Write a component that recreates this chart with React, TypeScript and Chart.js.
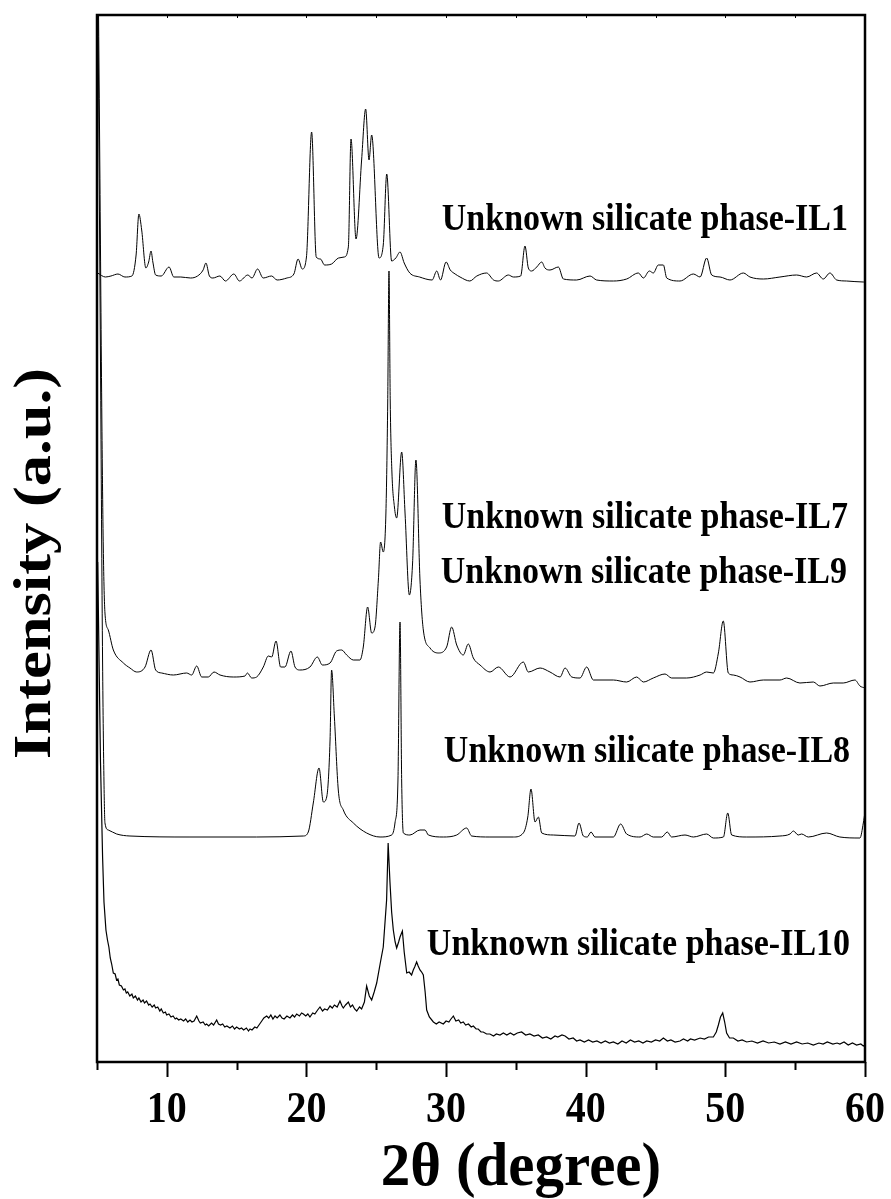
import React, { useEffect, useRef } from "react";
import { Chart, registerables } from "chart.js";

Chart.register(...registerables);

// ---- axis settings ----
const X_MIN = 5;
const X_MAX = 60;
const Y_MIN = 0;
const Y_MAX = 1047;
const MAJOR_TICKS = [10, 20, 30, 40, 50, 60];
const MINOR_TICKS = [5, 15, 25, 35, 45, 55];
const TICK_LABELS = ["10", "20", "30", "40", "50", "60"];
const X_TITLE = "2θ (degree)";
const Y_TITLE = "Intensity (a.u.)";

// ---- IL1 (top trace) ----
const IL1_THETA = [5.05, 5.6, 6.0, 6.5, 7.0, 7.5, 7.8, 8.0, 8.2, 8.5, 8.7, 8.87, 9.0, 9.2, 9.6, 10.16, 10.5, 11.0, 11.7, 12.2, 12.6, 12.8, 13.05, 13.3, 13.8, 14.2, 14.8, 15.2, 15.8, 16.1, 16.5, 16.9, 17.5, 17.9, 18.6, 19.1, 19.4, 19.7, 20.0, 20.37, 20.7, 21.0, 21.3, 21.8, 22.3, 22.7, 23.0, 23.19, 23.55, 23.95, 24.24, 24.48, 24.67, 25.2, 25.5, 25.75, 26.1, 26.4, 26.7, 27.0, 27.4, 28.1, 29.0, 29.33, 29.6, 30.0, 30.3, 30.65, 31.0, 31.7, 32.2, 32.9, 33.4, 33.74, 34.46, 34.82, 35.34, 35.65, 35.89, 36.13, 36.49, 36.85, 37.08, 37.44, 38.04, 38.4, 39.35, 40.31, 40.78, 41.98, 42.93, 43.77, 44.13, 44.56, 44.84, 45.2, 45.56, 45.8, 46.75, 47.71, 48.19, 48.66, 49.02, 49.62, 50.33, 51.29, 51.76, 52.72, 53.91, 55.1, 55.82, 56.53, 57.01, 57.49, 57.97, 58.68, 59.88, 60];
const IL1_COUNTS = [789, 785, 786, 788, 785, 786, 807, 848, 832, 794, 800, 811, 800, 787, 786, 795, 785, 785, 784, 786, 792, 799, 786, 784, 786, 781, 788, 781, 787, 784, 793, 784, 786, 782, 784, 788, 803, 793, 805, 930, 805, 803, 797, 798, 804, 805, 815, 923, 823, 902, 953, 902, 927, 804, 817, 888, 801, 804, 810, 799, 789, 785, 782, 791, 782, 800, 792, 788, 785, 781, 786, 789, 782, 781, 787, 785, 786, 816, 794, 791, 795, 800, 794, 792, 795, 783, 782, 786, 782, 781, 783, 789, 784, 791, 789, 797, 797, 784, 781, 788, 785, 804, 787, 785, 782, 789, 785, 783, 785, 787, 785, 789, 783, 789, 782, 781, 780, 780];

// ---- IL7 / IL9 (second trace) ----
const IL7_THETA = [5.05, 5.2, 5.35, 5.45, 5.57, 5.81, 6.17, 6.89, 7.36, 7.84, 8.44, 8.87, 9.2, 9.63, 10.47, 11.42, 11.78, 12.14, 12.5, 12.97, 13.38, 13.81, 14.76, 15.6, 15.77, 16.08, 16.43, 16.91, 17.27, 17.51, 17.82, 18.15, 18.46, 18.89, 19.18, 19.54, 20.25, 20.78, 21.14, 21.69, 22.16, 22.52, 22.88, 23.36, 23.83, 24.07, 24.38, 24.67, 24.91, 25.15, 25.31, 25.5, 25.69, 25.82, 25.91, 26.0, 26.12, 26.3, 26.46, 26.82, 27.06, 27.37, 27.6, 27.84, 28.13, 28.37, 28.85, 29.44, 30.04, 30.4, 30.76, 31.23, 31.59, 31.95, 32.43, 33.15, 33.74, 34.58, 35.53, 35.89, 36.73, 37.44, 38.16, 38.52, 39.0, 39.59, 40.07, 40.55, 41.98, 42.93, 43.65, 44.13, 44.84, 45.68, 46.15, 47.23, 48.19, 48.66, 49.14, 49.5, 49.85, 50.21, 50.57, 51.05, 51.76, 52.72, 53.91, 54.39, 55.34, 56.3, 56.77, 57.73, 58.44, 59.28, 59.64, 60];
const IL7_COUNTS = [1150, 900, 640, 515, 449, 432, 412, 399, 394, 390, 395, 412, 392, 389, 387, 389, 387, 396, 385, 385, 390, 387, 385, 386, 389, 384, 385, 395, 406, 405, 421, 395, 395, 411, 395, 392, 395, 405, 397, 399, 411, 412, 407, 402, 402, 415, 455, 429, 435, 482, 520, 510, 549, 660, 791, 660, 590, 555, 544, 610, 549, 467, 499, 602, 482, 432, 414, 409, 415, 435, 417, 407, 418, 404, 397, 390, 395, 385, 400, 390, 394, 390, 385, 394, 385, 384, 395, 382, 382, 380, 385, 380, 384, 388, 384, 384, 387, 390, 389, 409, 441, 389, 387, 385, 380, 382, 382, 384, 379, 380, 376, 379, 379, 382, 376, 374];

// ---- IL8 (third trace) ----
const IL8_THETA = [5.05, 5.25, 5.4, 5.5, 5.57, 5.81, 6.41, 7.36, 11.66, 16.43, 19.78, 20.13, 20.49, 20.9, 21.21, 21.45, 21.69, 21.8, 22.0, 22.28, 22.64, 23.36, 24.31, 25.27, 26.1, 26.34, 26.55, 26.7, 26.82, 26.94, 27.41, 28.13, 28.49, 28.73, 29.8, 30.76, 31.47, 31.83, 33.14, 34.82, 35.53, 35.85, 36.08, 36.37, 36.61, 36.85, 37.68, 39.23, 39.52, 39.83, 40.11, 40.38, 40.66, 41.98, 42.5, 42.93, 43.89, 44.37, 44.84, 45.44, 45.84, 46.15, 47.11, 47.71, 48.66, 49.14, 49.86, 50.17, 50.45, 51.53, 53.91, 54.63, 54.87, 55.22, 55.46, 55.94, 57.25, 58.2, 59.64, 59.88, 60];
const IL8_COUNTS = [1100, 700, 400, 280, 239, 232, 228, 226, 225, 225, 226, 230, 259, 294, 260, 265, 322, 392, 345, 272, 252, 239, 229, 225, 227, 239, 280, 440, 280, 229, 227, 232, 232, 227, 225, 227, 234, 226, 225, 225, 229, 245, 273, 240, 245, 229, 227, 226, 239, 226, 225, 230, 225, 225, 238, 228, 225, 228, 225, 225, 230, 225, 227, 225, 228, 224, 225, 249, 227, 225, 226, 228, 231, 227, 228, 225, 229, 225, 224, 239, 250];

// ---- IL10 (bottom trace, noisy scan) as [2θ, counts] ----
const IL10_POINTS: [number, number][] = [
  [5.05, 500], [5.25, 300], [5.4, 205], [5.5, 160], [5.64, 132], [5.75, 122], [5.85, 115], [5.95, 104], [6.05, 98], [6.17, 89],
  [6.3, 88], [6.4, 82], [6.5, 83], [6.6, 77], [6.75, 76], [6.89, 72], [7.0, 73], [7.1, 69], [7.2, 70], [7.35, 66],
  [7.5, 68], [7.6, 64], [7.75, 66], [7.9, 62], [8.0, 64], [8.15, 60], [8.3, 62], [8.4, 59], [8.55, 61], [8.7, 57],
  [8.8, 58], [8.95, 55], [9.1, 57], [9.2, 54], [9.35, 55], [9.5, 51], [9.6, 53], [9.75, 49], [9.9, 50], [9.99, 47],
  [10.15, 48], [10.3, 45], [10.45, 46], [10.6, 43], [10.7, 44], [10.85, 42], [11.0, 43], [11.2, 41], [11.35, 43], [11.5, 40],
  [11.66, 42], [11.8, 40], [11.95, 41], [12.14, 46], [12.3, 41], [12.4, 39], [12.6, 40], [12.75, 37], [12.85, 38], [13.0, 36],
  [13.2, 39], [13.35, 37], [13.57, 42], [13.7, 38], [13.85, 37], [14.0, 38], [14.15, 35], [14.3, 36], [14.52, 34], [14.7, 36],
  [14.85, 33], [15.0, 35], [15.2, 33], [15.35, 34], [15.5, 32], [15.7, 34], [15.85, 31], [15.96, 33], [16.1, 32], [16.3, 35],
  [16.45, 34], [16.6, 37], [16.8, 41], [16.95, 44], [17.15, 46], [17.3, 44], [17.45, 47], [17.6, 43], [17.75, 46], [17.9, 44],
  [18.1, 47], [18.25, 44], [18.4, 43], [18.6, 46], [18.82, 44], [19.0, 47], [19.15, 45], [19.3, 48], [19.5, 46], [19.65, 49],
  [19.78, 48], [19.95, 46], [20.1, 48], [20.25, 45], [20.45, 49], [20.6, 48], [20.8, 52], [20.97, 55], [21.15, 51], [21.3, 53],
  [21.5, 52], [21.69, 56], [21.85, 54], [22.0, 57], [22.2, 55], [22.4, 61], [22.55, 56], [22.64, 54], [22.8, 57], [23.0, 60],
  [23.15, 55], [23.3, 57], [23.45, 53], [23.6, 51], [23.8, 55], [23.95, 53], [24.15, 60], [24.31, 76], [24.5, 66], [24.67, 62],
  [24.85, 70], [25.03, 79], [25.3, 100], [25.5, 115], [25.74, 162], [25.85, 219], [25.98, 180], [26.1, 150], [26.22, 132], [26.35, 120],
  [26.46, 114], [26.6, 120], [26.7, 125], [26.87, 131], [27.0, 110], [27.18, 89], [27.35, 90], [27.53, 87], [27.65, 92], [27.75, 95],
  [27.89, 100], [28.0, 96], [28.13, 92], [28.25, 90], [28.37, 87], [28.5, 70], [28.61, 52], [28.8, 45], [29.09, 40], [29.3, 38],
  [29.5, 40], [29.8, 38], [30.0, 41], [30.2, 40], [30.35, 43], [30.52, 46], [30.7, 41], [30.9, 42], [31.05, 39], [31.23, 40],
  [31.4, 37], [31.6, 38], [31.8, 35], [31.95, 36], [32.15, 33], [32.3, 33], [32.5, 30], [32.66, 30], [32.9, 28], [33.14, 28],
  [33.4, 26], [33.6, 28], [33.86, 27], [34.1, 29], [34.35, 27], [34.6, 29], [34.85, 27], [35.1, 29], [35.41, 30], [35.7, 27],
  [36.0, 28], [36.3, 26], [36.6, 27], [36.9, 24], [37.2, 25], [37.5, 23], [37.8, 26], [38.0, 25], [38.3, 27], [38.52, 26],
  [38.8, 23], [39.1, 24], [39.35, 21], [39.59, 22], [39.9, 20], [40.2, 22], [40.5, 20], [40.8, 21], [41.1, 19], [41.4, 21],
  [41.7, 19], [41.98, 20], [42.3, 18], [42.6, 21], [42.9, 19], [43.2, 22], [43.5, 20], [43.8, 21], [44.1, 19], [44.37, 21],
  [44.7, 20], [45.0, 22], [45.3, 21], [45.56, 24], [45.85, 21], [46.1, 22], [46.4, 20], [46.75, 21], [47.0, 23], [47.3, 21],
  [47.5, 23], [47.8, 22], [48.19, 24], [48.5, 23], [48.8, 25], [49.14, 25], [49.35, 30], [49.5, 37], [49.65, 45], [49.81, 49],
  [49.95, 40], [50.09, 29], [50.3, 24], [50.57, 24], [50.9, 21], [51.2, 22], [51.53, 20], [51.9, 21], [52.3, 19], [52.7, 21],
  [53.1, 19], [53.5, 20], [53.91, 18], [54.3, 20], [54.7, 18], [55.1, 20], [55.5, 18], [55.9, 19], [56.3, 17], [56.7, 19],
  [57.0, 18], [57.3, 20], [57.7, 18], [58.0, 19], [58.2, 18], [58.5, 20], [58.8, 17], [59.1, 19], [59.4, 17], [59.7, 18],
  [59.88, 16], [60, 17],
];

// ---- sample labels: text, right-edge theta, baseline value ----
const SAMPLE_LABELS = [
  "Unknown silicate phase-IL1",
  "Unknown silicate phase-IL7",
  "Unknown silicate phase-IL9",
  "Unknown silicate phase-IL8",
  "Unknown silicate phase-IL10",
];
const SAMPLE_LABEL_THETA = [58.78, 58.78, 58.71, 58.93, 58.93];
const SAMPLE_LABEL_VALUE = [832, 534, 479, 300, 107];

const SERIF = "'Liberation Serif', 'Times New Roman', serif";

function toPoints(xs: number[], ys: number[]) {
  return xs.map((x, i) => ({ x, y: ys[i] }));
}

function drawText(
  ctx: CanvasRenderingContext2D,
  text: string,
  x: number,
  y: number,
  size: number,
  sx: number,
  sy: number,
  align: CanvasTextAlign,
  rotate = 0
) {
  ctx.save();
  ctx.translate(x, y);
  if (rotate) ctx.rotate(rotate);
  ctx.scale(sx, sy);
  ctx.font = `bold ${size}px ${SERIF}`;
  ctx.textAlign = align;
  ctx.textBaseline = "alphabetic";
  ctx.fillStyle = "#000";
  ctx.fillText(text, 0, 0);
  ctx.restore();
}

const framePlugin = {
  id: "xrdFrame",
  afterDraw(chart: any) {
    const ctx: CanvasRenderingContext2D = chart.ctx;
    const { left, right, top, bottom } = chart.chartArea;
    const xs = chart.scales.x;
    const ys = chart.scales.y;
    ctx.save();
    ctx.strokeStyle = "#000";
    ctx.lineWidth = 2.5;
    ctx.strokeRect(left, top, right - left, bottom - top);
    ctx.lineWidth = 2;
    ctx.beginPath();
    MAJOR_TICKS.forEach((t) => {
      const px = Math.round(xs.getPixelForValue(t)) + 0.5;
      ctx.moveTo(px, bottom);
      ctx.lineTo(px, bottom + 15);
    });
    MINOR_TICKS.forEach((t) => {
      const px = Math.round(xs.getPixelForValue(t)) + 0.5;
      ctx.moveTo(px, bottom);
      ctx.lineTo(px, bottom + 8);
    });
    ctx.stroke();
    ctx.lineWidth = 1;
    ctx.beginPath();
    [...MAJOR_TICKS, ...MINOR_TICKS].forEach((t) => {
      const px = Math.round(xs.getPixelForValue(t)) + 0.5;
      ctx.moveTo(px, top);
      ctx.lineTo(px, top + 3);
    });
    ctx.stroke();
    ctx.restore();

    MAJOR_TICKS.forEach((t, i) => {
      drawText(ctx, TICK_LABELS[i], xs.getPixelForValue(t), bottom + 60, 40, 1, 1.1, "center");
    });
    const midX = (left + right) / 2;
    drawText(ctx, X_TITLE, midX + 40, bottom + 123, 59, 1, 1.05, "center");
    const midY = (top + bottom) / 2;
    drawText(ctx, Y_TITLE, left - 47, midY + 25, 53, 1.18, 1, "center", -Math.PI / 2);

    SAMPLE_LABELS.forEach((txt, i) => {
      drawText(
        ctx,
        txt,
        xs.getPixelForValue(SAMPLE_LABEL_THETA[i]),
        ys.getPixelForValue(SAMPLE_LABEL_VALUE[i]),
        34,
        1,
        1.12,
        "right"
      );
    });
  },
};

export default function App() {
  const canvasRef = useRef<HTMLCanvasElement | null>(null);

  useEffect(() => {
    const canvas = canvasRef.current;
    if (!canvas) return;
    const mk = (label: string, data: { x: number; y: number }[], w: number, smooth: boolean) => ({
      label,
      data,
      showLine: true,
      borderColor: "#000",
      borderWidth: w,
      pointRadius: 0,
      fill: false,
      cubicInterpolationMode: smooth ? ("monotone" as const) : ("default" as const),
    });
    const chart = new Chart(canvas, {
      type: "scatter",
      data: {
        datasets: [
          mk("IL1", toPoints(IL1_THETA, IL1_COUNTS), 1, true),
          mk("IL7/IL9", toPoints(IL7_THETA, IL7_COUNTS), 1, true),
          mk("IL8", toPoints(IL8_THETA, IL8_COUNTS), 1, true),
          mk("IL10", IL10_POINTS.map(([x, y]) => ({ x, y })), 1.2, false),
        ],
      },
      options: {
        animation: false,
        responsive: false,
        maintainAspectRatio: false,
        layout: { padding: { left: 97, right: 26, top: 15, bottom: 137 } },
        plugins: {
          legend: { display: false },
          tooltip: { enabled: false },
          title: { display: false },
        },
        scales: {
          x: { type: "linear", min: X_MIN, max: X_MAX, display: false },
          y: { type: "linear", min: Y_MIN, max: Y_MAX, display: false },
        },
      },
      plugins: [framePlugin],
    });
    return () => chart.destroy();
  }, []);

  return (
    <div style={{ position: "absolute", left: 0, top: 0, width: 891, height: 1199, background: "#fff" }}>
      <canvas ref={canvasRef} width={891} height={1199} style={{ width: 891, height: 1199, display: "block" }} />
    </div>
  );
}
